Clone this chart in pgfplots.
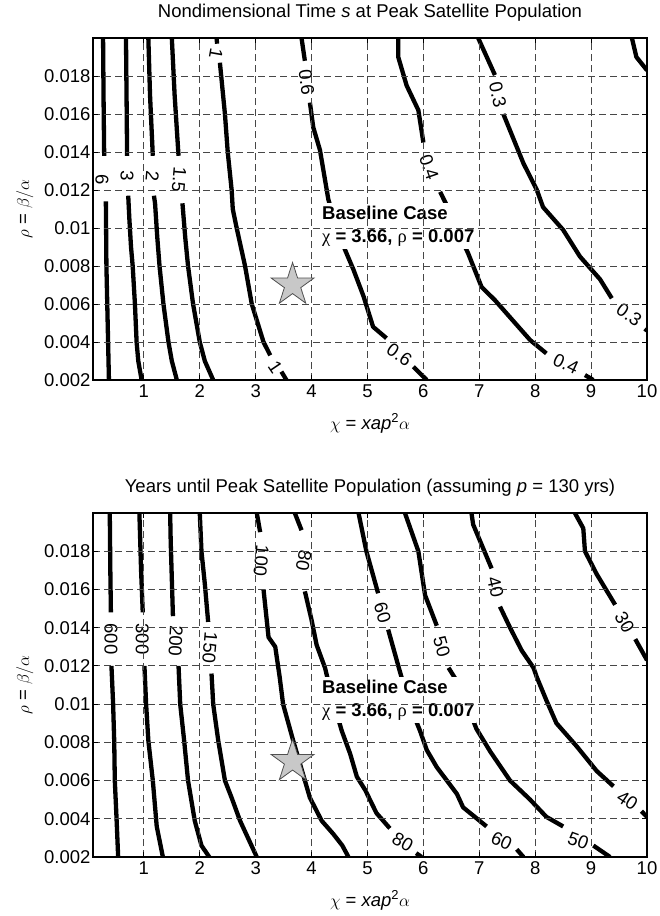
\documentclass[border=0pt]{standalone}
\usepackage{fontspec}
\setmainfont{Liberation Sans}
\newfontfamily\greekfont{Liberation Serif}
\usepackage{pgfplots}
\pgfplotsset{compat=1.18}

\definecolor{starfill}{HTML}{C8C8C8}
\definecolor{stardraw}{HTML}{505050}
\newcommand\fs{\fontsize{18.5bp}{22bp}\selectfont}

% filled five-point star for the baseline case
\pgfdeclareplotmark{fstar}{%
  \pgfpathmoveto{\pgfpointpolar{90}{\pgfplotmarksize}}%
  \pgfpathlineto{\pgfpointpolar{126}{0.382\pgfplotmarksize}}%
  \pgfpathlineto{\pgfpointpolar{162}{\pgfplotmarksize}}%
  \pgfpathlineto{\pgfpointpolar{198}{0.382\pgfplotmarksize}}%
  \pgfpathlineto{\pgfpointpolar{234}{\pgfplotmarksize}}%
  \pgfpathlineto{\pgfpointpolar{270}{0.382\pgfplotmarksize}}%
  \pgfpathlineto{\pgfpointpolar{306}{\pgfplotmarksize}}%
  \pgfpathlineto{\pgfpointpolar{342}{0.382\pgfplotmarksize}}%
  \pgfpathlineto{\pgfpointpolar{18}{\pgfplotmarksize}}%
  \pgfpathlineto{\pgfpointpolar{54}{0.382\pgfplotmarksize}}%
  \pgfpathclose
  \pgfusepathqfillstroke}

\pgfplotsset{
  cmap/.style={
    scale only axis, width=554bp,
    xmin=0.09, xmax=10, ymin=0.002, ymax=0.02,
    scaled y ticks=false,
    xtick={1,2,3,4,5,6,7,8,9,10},
    xticklabels={1,2,3,4,5,6,7,8,9,10},
    ytick={0.002,0.004,0.006,0.008,0.01,0.012,0.014,0.016,0.018},
    yticklabels={0.002,0.004,0.006,0.008,0.01,0.012,0.014,0.016,0.018},
    tick label style={font=\fs},
    xticklabel style={yshift=-1bp},
    yticklabel style={xshift=1bp},
    grid=major,
    grid style={black!72, line width=1bp, dash pattern=on 7bp off 4bp},
    axis on top,
    axis line style={line width=1.1bp},
    tick align=inside, major tick length=5bp,
    tick style={black, line width=0.9bp},
    title style={font=\fs, at={(0.5,1)}, anchor=base, yshift=15bp},
    xlabel style={font=\fs, at={(0.5,0)}, anchor=base, yshift=-49bp},
    ylabel style={font=\fs, at={(axis description cs:-0.123,0.5)}, anchor=center},
    xlabel={$\chi$ = \textit{xap}\textsuperscript{2}$\alpha$},
    ylabel={$\rho$ = $\beta/\alpha$},
  },
  cl/.style={black, line width=4.3bp, line join=round, mark=none},
  star/.style={only marks, mark=fstar, mark size=22.5bp,
    mark options={fill=starfill, draw=stardraw, line width=0.8bp}},
}
\tikzset{lab/.style={font=\fs, inner sep=0pt},
  base/.style={anchor=north west, fill=white, inner xsep=2bp, inner ysep=3bp,
    align=left, font=\fontsize{18.5bp}{23bp}\selectfont\bfseries}}

\begin{document}
\begin{tikzpicture}
\useasboundingbox (0,0) rectangle (660bp,-916bp);

% ---- top: nondimensional time s
\begin{axis}[cmap, height=342bp, at={(93bp,-38bp)}, anchor=north west,
  title={Nondimensional Time \textit{s} at Peak Satellite Population}]
% 6
\addplot[cl] coordinates {(0.27,0.02)(0.28,0.0165)(0.29,0.0138)};
\addplot[cl] coordinates {(0.32,0.0114)(0.33,0.008)(0.345,0.006)(0.36,0.004)(0.375,0.002)};
% 3
\addplot[cl] coordinates {(0.68,0.02)(0.69,0.017)(0.70,0.0138)};
\addplot[cl] coordinates {(0.72,0.0117)(0.74,0.0105)(0.77,0.009)(0.80,0.008)(0.84,0.006)(0.87,0.004)(0.90,0.003)(0.96,0.002)};
% 2
\addplot[cl] coordinates {(1.08,0.02)(1.11,0.017)(1.16,0.0138)};
\addplot[cl] coordinates {(1.18,0.0117)(1.20,0.0113)(1.24,0.0095)(1.28,0.008)(1.35,0.006)(1.44,0.004)(1.50,0.003)(1.59,0.002)};
% 1.5
\addplot[cl] coordinates {(1.50,0.02)(1.55,0.017)(1.62,0.0138)};
\addplot[cl] coordinates {(1.69,0.0113)(1.74,0.0095)(1.79,0.008)(1.88,0.006)(2.00,0.004)(2.09,0.003)(2.24,0.002)};
% 1
\addplot[cl] coordinates {(2.30,0.02)(2.31,0.0197)};
\addplot[cl] coordinates {(2.36,0.0187)(2.45,0.016)(2.50,0.014)(2.57,0.012)(2.59,0.011)(2.66,0.01)(2.81,0.008)(2.93,0.006)(3.14,0.004)(3.26,0.0033)};
\addplot[cl] coordinates {(3.46,0.00244)(3.55,0.002)};
% 0.6
\addplot[cl] coordinates {(3.82,0.02)(3.88,0.0188)};
\addplot[cl] coordinates {(3.97,0.0166)(4.03,0.0153)(4.15,0.0141)(4.30,0.0115)(4.45,0.0100)(4.60,0.00884)(4.75,0.0078)(4.93,0.0064)(5.10,0.0048)(5.34,0.0042)};
\addplot[cl] coordinates {(5.82,0.0027)(6.06,0.002)};
% 0.4
\addplot[cl] coordinates {(5.55,0.02)(5.55,0.019)(5.70,0.0175)(5.91,0.0162)(6.00,0.0145)};
\addplot[cl] coordinates {(6.30,0.0119)(6.45,0.0110)(6.62,0.0098)(6.80,0.00867)(7.04,0.0069)(7.28,0.0062)(7.58,0.0052)(7.91,0.0041)(8.20,0.0034)};
\addplot[cl] coordinates {(8.89,0.00226)(9.04,0.002)};
% 0.3
\addplot[cl] coordinates {(6.98,0.02)(7.28,0.01805)};
\addplot[cl] coordinates {(7.43,0.0160)(7.79,0.0134)(8.03,0.0120)(8.14,0.0111)(8.50,0.0099)(8.80,0.0085)(9.16,0.0073)(9.37,0.0063)};
\addplot[cl] coordinates {(9.96,0.0047)(10,0.0046)};
% 0.2 (unlabelled)
\addplot[cl] coordinates {(9.73,0.02)(9.81,0.019)(10,0.0183)};
% labels
\node[lab, rotate=-90] at (axis cs:0.25,0.01255) {6};
\node[lab, rotate=-92] at (axis cs:0.70,0.01275) {3};
\node[lab, rotate=-95] at (axis cs:1.15,0.01275) {2};
\node[lab, rotate=-95] at (axis cs:1.63,0.01255) {1.5};
\node[lab, rotate=-100] at (axis cs:2.29,0.01920) {1};
\node[lab, rotate=-56] at (axis cs:3.35,0.00265) {1};
\node[lab, rotate=-83] at (axis cs:3.91,0.01765) {0.6};
\node[lab, rotate=-71] at (axis cs:6.10,0.0132) {0.4};
\node[lab, rotate=-78] at (axis cs:7.33,0.0170) {0.3};
\node[lab, rotate=-35] at (axis cs:5.57,0.00335) {0.6};
\node[lab, rotate=-25] at (axis cs:8.55,0.00285) {0.4};
\node[lab, rotate=-35] at (axis cs:9.68,0.00545) {0.3};
% baseline
\addplot[star] coordinates {(3.66,0.007)};
\node[base] at (axis cs:4.15,0.01132) {Baseline Case\\{\greekfont\mdseries χ} = 3.66, {\greekfont\mdseries ρ} = 0.007};
\end{axis}

% ---- bottom: years until peak
\begin{axis}[cmap, height=344bp, at={(93bp,-513bp)}, anchor=north west,
  title={Years until Peak Satellite Population (assuming \textit{p} = 130 yrs)}]
% 600
\addplot[cl] coordinates {(0.39,0.02)(0.40,0.017)(0.41,0.0148)};
\addplot[cl] coordinates {(0.42,0.0120)(0.45,0.010)(0.47,0.008)(0.48,0.006)(0.51,0.0041)(0.54,0.002)};
% 300
\addplot[cl] coordinates {(0.92,0.02)(0.95,0.017)(0.98,0.0148)};
\addplot[cl] coordinates {(1.01,0.0120)(1.04,0.010)(1.08,0.0081)(1.16,0.006)(1.23,0.0036)(1.34,0.002)};
% 200
\addplot[cl] coordinates {(1.47,0.02)(1.48,0.0185)(1.52,0.0146)};
\addplot[cl] coordinates {(1.62,0.0120)(1.65,0.010)(1.72,0.0081)(1.79,0.006)(1.91,0.0039)(2.03,0.0026)(2.17,0.002)};
% 150
\addplot[cl] coordinates {(2.00,0.02)(2.03,0.018)(2.09,0.0163)(2.15,0.0143)};
\addplot[cl] coordinates {(2.21,0.0116)(2.24,0.010)(2.33,0.0081)(2.45,0.006)(2.57,0.0051)(2.72,0.0039)(3.02,0.002)};
% 100
\addplot[cl] coordinates {(3.02,0.02)(3.08,0.0190)};
\addplot[cl] coordinates {(3.14,0.0160)(3.23,0.0135)(3.35,0.0130)(3.43,0.0114)(3.49,0.010)(3.67,0.0081)(3.88,0.006)(3.97,0.0051)(4.18,0.0039)(4.39,0.0032)(4.55,0.0026)(4.66,0.002)};
% 80
\addplot[cl] coordinates {(3.70,0.02)(3.82,0.0191)};
\addplot[cl] coordinates {(3.88,0.0159)(4.00,0.0144)(4.09,0.0131)(4.24,0.0119)(4.40,0.0100)(4.54,0.0086)(4.69,0.0074)(4.81,0.0062)(4.96,0.0055)(5.16,0.0043)(5.40,0.0035)};
\addplot[cl] coordinates {(5.87,0.0022)(5.97,0.002)};
% 60
\addplot[cl] coordinates {(4.84,0.02)(4.98,0.018)(5.19,0.0158)};
\addplot[cl] coordinates {(5.37,0.0139)(5.58,0.0117)(5.75,0.0100)(5.94,0.0086)(6.06,0.0076)(6.24,0.0067)(6.42,0.006)(6.60,0.0053)(6.71,0.0046)(7.13,0.0036)};
\addplot[cl] coordinates {(7.67,0.0024)(7.79,0.002)};
% 50
\addplot[cl] coordinates {(5.67,0.02)(5.91,0.018)(6.03,0.0157)(6.24,0.0141)};
\addplot[cl] coordinates {(6.45,0.0119)(6.60,0.0112)(6.80,0.0098)(6.95,0.0087)(7.20,0.0075)(7.55,0.006)(7.91,0.0050)(8.20,0.0041)(8.50,0.0036)};
\addplot[cl] coordinates {(9.04,0.0026)(9.34,0.002)};
% 40
\addplot[cl] coordinates {(6.86,0.02)(6.89,0.0194)(7.22,0.0171)};
\addplot[cl] coordinates {(7.37,0.0151)(7.55,0.0140)(7.76,0.0128)(7.97,0.0119)(8.03,0.0114)(8.20,0.0102)(8.38,0.0090)(8.74,0.0078)(9.10,0.0065)(9.40,0.0057)};
\addplot[cl] coordinates {(9.90,0.0044)(10,0.0041)};
% 30
\addplot[cl] coordinates {(8.71,0.02)(8.86,0.0192)(8.89,0.018)(9.10,0.0168)(9.43,0.0152)};
\addplot[cl] coordinates {(9.79,0.0134)(10,0.0123)};
% labels
\node[lab, rotate=-90] at (axis cs:0.41,0.0134) {600};
\node[lab, rotate=-90] at (axis cs:0.97,0.0134) {300};
\node[lab, rotate=-93] at (axis cs:1.57,0.0133) {200};
\node[lab, rotate=-95] at (axis cs:2.18,0.01295) {150};
\node[lab, rotate=-95] at (axis cs:3.10,0.01750) {100};
\node[lab, rotate=-100] at (axis cs:3.86,0.0175) {80};
\node[lab, rotate=-74] at (axis cs:5.27,0.0148) {60};
\node[lab, rotate=-74] at (axis cs:6.33,0.0130) {50};
\node[lab, rotate=-77] at (axis cs:7.29,0.0161) {40};
\node[lab, rotate=-60] at (axis cs:9.60,0.0143) {30};
\node[lab, rotate=-30] at (axis cs:5.63,0.00280) {80};
\node[lab, rotate=-25] at (axis cs:7.40,0.00285) {60};
\node[lab, rotate=-20] at (axis cs:8.77,0.00285) {50};
\node[lab, rotate=-33] at (axis cs:9.65,0.00495) {40};
% baseline
\addplot[star] coordinates {(3.66,0.007)};
\node[base] at (axis cs:4.15,0.01143) {Baseline Case\\{\greekfont\mdseries χ} = 3.66, {\greekfont\mdseries ρ} = 0.007};
\end{axis}
\end{tikzpicture}
\end{document}
